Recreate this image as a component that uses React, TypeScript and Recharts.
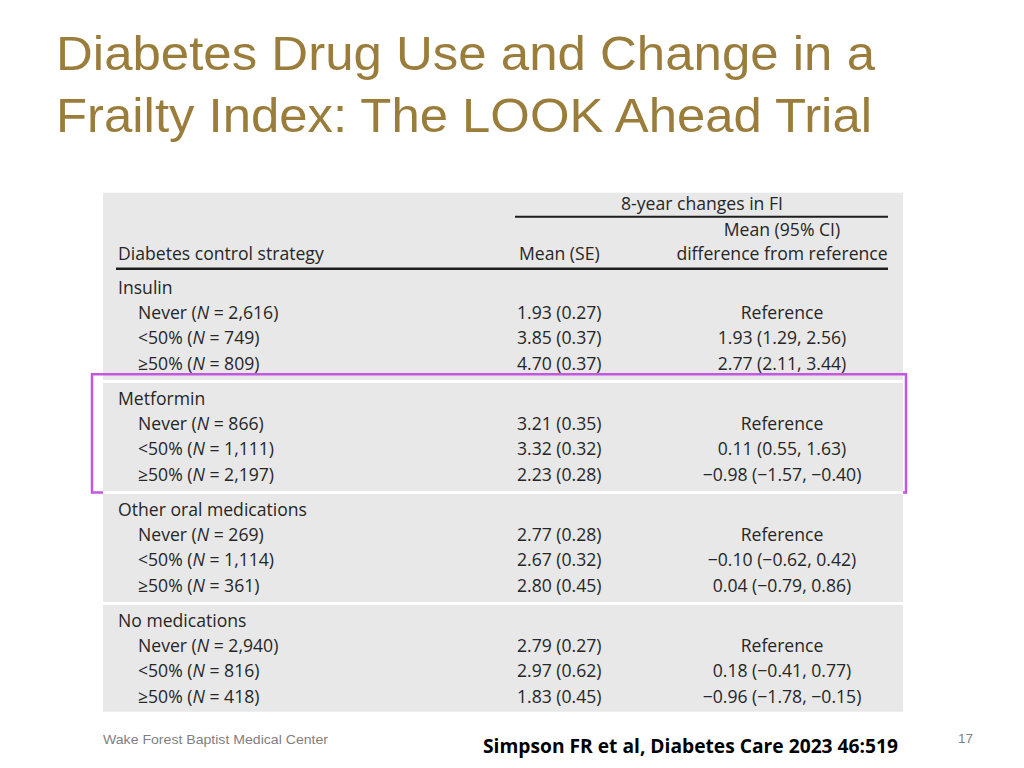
import React from "react";
import {
  ComposedChart,
  XAxis,
  YAxis,
  Scatter,
  ReferenceArea,
  ReferenceLine,
} from "recharts";

// ---------- data ----------
const groups = ["Insulin", "Metformin", "Other oral medications", "No medications"];
const levels = ["Never", "<50%", "≥50%"];
const nValues = [
  [2616, 749, 809],
  [866, 1111, 2197],
  [269, 1114, 361],
  [2940, 816, 418],
];
const means = [
  [1.93, 3.85, 4.7],
  [3.21, 3.32, 2.23],
  [2.77, 2.67, 2.8],
  [2.79, 2.97, 1.83],
];
const ses = [
  [0.27, 0.37, 0.37],
  [0.35, 0.32, 0.28],
  [0.28, 0.32, 0.45],
  [0.27, 0.62, 0.45],
];
const diffs = [
  [null, 1.93, 2.77],
  [null, 0.11, -0.98],
  [null, -0.1, 0.04],
  [null, 0.18, -0.96],
];
const ciLow = [
  [null, 1.29, 2.11],
  [null, 0.55, -1.57],
  [null, -0.62, -0.79],
  [null, -0.41, -1.78],
];
const ciHigh = [
  [null, 2.56, 3.44],
  [null, 1.63, -0.4],
  [null, 0.42, 0.86],
  [null, 0.77, -0.15],
];
const headerSpan = "8-year changes in FI";
const headerCI1 = "Mean (95% CI)";
const headerCI2 = "difference from reference";
const headerStrategy = "Diabetes control strategy";
const headerMean = "Mean (SE)";
const referenceText = "Reference";
const highlightedGroup = "Metformin";

const titleLines = [
  "Diabetes Drug Use and Change in a",
  "Frailty Index: The LOOK Ahead Trial",
];
const footerLeft = "Wake Forest Baptist Medical Center";
const footerCitation = "Simpson FR et al, Diabetes Care 2023 46:519";
const pageNumber = "17";

// ---------- layout constants ----------
const W = 1024;
const H = 768;
const GROUP_GAP = 0.405;
const X_HEAD = 118;
const X_SUB = 138;
const X_MEAN = 517;
const X_CI = 782;
const X_SPAN = 702;
const FONT = "'Open Sans', 'Noto Sans', sans-serif";
const FONT_SIZE = 17.6;
const TEXT_COLOR = "#262626";

const fmt = (v: number) => v.toFixed(2).replace("-", "\u2212");

type Cell = {
  x: number;
  y: number;
  text: string;
  anchor: "start" | "middle" | "end";
  italicN?: { before: string; after: string };
};

const labelCells: Cell[] = [];
const meanCells: Cell[] = [];
const ciCells: Cell[] = [];
const groupHeaderSlots: number[] = [];

groups.forEach((g, gi) => {
  const h = gi * (4 + GROUP_GAP);
  groupHeaderSlots.push(h);
  labelCells.push({ x: X_HEAD, y: h, text: g, anchor: "start" });
  levels.forEach((lv, li) => {
    const y = h + 1 + li;
    const n = nValues[gi][li].toLocaleString("en-US");
    labelCells.push({
      x: X_SUB,
      y,
      text: "",
      anchor: "start",
      italicN: { before: `${lv} (`, after: ` = ${n})` },
    });
    meanCells.push({
      x: X_MEAN,
      y,
      text: `${fmt(means[gi][li])} (${fmt(ses[gi][li])})`,
      anchor: "start",
    });
    const d = diffs[gi][li];
    ciCells.push({
      x: X_CI,
      y,
      text:
        d === null
          ? referenceText
          : `${fmt(d)} (${fmt(ciLow[gi][li] as number)}, ${fmt(ciHigh[gi][li] as number)})`,
      anchor: "middle",
    });
  });
});

const headerCells: Cell[] = [
  { x: X_SPAN, y: -3.33, text: headerSpan, anchor: "middle" },
  { x: X_CI, y: -2.3, text: headerCI1, anchor: "middle" },
  { x: X_CI, y: -1.35, text: headerCI2, anchor: "middle" },
  { x: X_HEAD, y: -1.35, text: headerStrategy, anchor: "start" },
  { x: X_MEAN + 2, y: -1.35, text: headerMean, anchor: "start" },
];

const lastSlot = groupHeaderSlots[groupHeaderSlots.length - 1] + 3;
const hiIdx = groups.indexOf(highlightedGroup);
const hiTop = groupHeaderSlots[hiIdx] - 0.97;
const hiBottom = groupHeaderSlots[hiIdx] + 3 + 0.72;

const CellShape = (props: any) => {
  const { cx, cy, payload } = props;
  if (cx == null || cy == null) return null;
  const c: Cell = payload;
  return (
    <text
      x={cx}
      y={cy}
      dy="0.36em"
      textAnchor={c.anchor}
      fontFamily={FONT}
      fontSize={FONT_SIZE}
      fill={TEXT_COLOR}
    >
      {c.italicN ? (
        <>
          <tspan>{c.italicN.before}</tspan>
          <tspan fontStyle="italic">N</tspan>
          <tspan>{c.italicN.after}</tspan>
        </>
      ) : (
        c.text
      )}
    </text>
  );
};

export default function App() {
  return (
    <div
      style={{
        position: "absolute",
        left: 0,
        top: 0,
        width: W,
        height: H,
        background: "#ffffff",
        overflow: "hidden",
      }}
    >
      <ComposedChart
        width={W}
        height={H}
        margin={{ top: 187, right: 0, bottom: 52, left: 0 }}
      >
        <XAxis type="number" dataKey="x" domain={[0, W]} hide allowDataOverflow />
        <YAxis type="number" dataKey="y" domain={[-4, 17]} reversed hide allowDataOverflow />
        <ReferenceArea
          x1={103}
          x2={903}
          y1={-3.77}
          y2={lastSlot + 0.62}
          fill="#e8e8e8"
          fillOpacity={1}
          stroke="none"
        />
        {groupHeaderSlots.slice(1).map((s, i) => (
          <ReferenceLine
            key={"sep" + i}
            segment={[
              { x: 103, y: s - 0.68 },
              { x: 903, y: s - 0.68 },
            ]}
            stroke="#ffffff"
            strokeWidth={3}
          />
        ))}
        <ReferenceLine
          segment={[
            { x: 515, y: -2.82 },
            { x: 888, y: -2.82 },
          ]}
          stroke="#1e1e1e"
          strokeWidth={2}
        />
        <ReferenceLine
          segment={[
            { x: 116, y: -0.75 },
            { x: 888, y: -0.75 },
          ]}
          stroke="#1e1e1e"
          strokeWidth={2.5}
        />
        <Scatter data={headerCells} shape={CellShape} isAnimationActive={false} />
        <Scatter data={labelCells} shape={CellShape} isAnimationActive={false} />
        <Scatter data={meanCells} shape={CellShape} isAnimationActive={false} />
        <Scatter data={ciCells} shape={CellShape} isAnimationActive={false} />
        <ReferenceArea
          x1={92}
          x2={906}
          y1={hiTop}
          y2={hiBottom}
          fill="none"
          fillOpacity={0}
          stroke="#c356e3"
          strokeWidth={2.5}
        />
      </ComposedChart>
      <svg
        width={W}
        height={H}
        style={{ position: "absolute", left: 0, top: 0, pointerEvents: "none" }}
      >
        {titleLines.map((t, i) => (
          <text
            key={i}
            x={56}
            y={70 + i * 62}
            fontFamily="'Liberation Sans', Arial, sans-serif"
            fontSize={49}
            fill="#9b7d3b"
            textLength={i === 0 ? 819 : 816}
            lengthAdjust="spacingAndGlyphs"
          >
            {t}
          </text>
        ))}
        <text
          x={103}
          y={744}
          fontFamily="'Liberation Sans', Arial, sans-serif"
          fontSize={13.5}
          fill="#7f7f7f"
          textLength={225}
          lengthAdjust="spacingAndGlyphs"
        >
          {footerLeft}
        </text>
        <text
          x={483}
          y={753}
          fontFamily={FONT}
          fontWeight="bold"
          fontSize={19}
          fill="#000000"
          textLength={415}
          lengthAdjust="spacingAndGlyphs"
        >
          {footerCitation}
        </text>
        <text
          x={958}
          y={743}
          fontFamily="'Liberation Sans', Arial, sans-serif"
          fontSize={13.5}
          fill="#7f7f7f"
        >
          {pageNumber}
        </text>
      </svg>
    </div>
  );
}
